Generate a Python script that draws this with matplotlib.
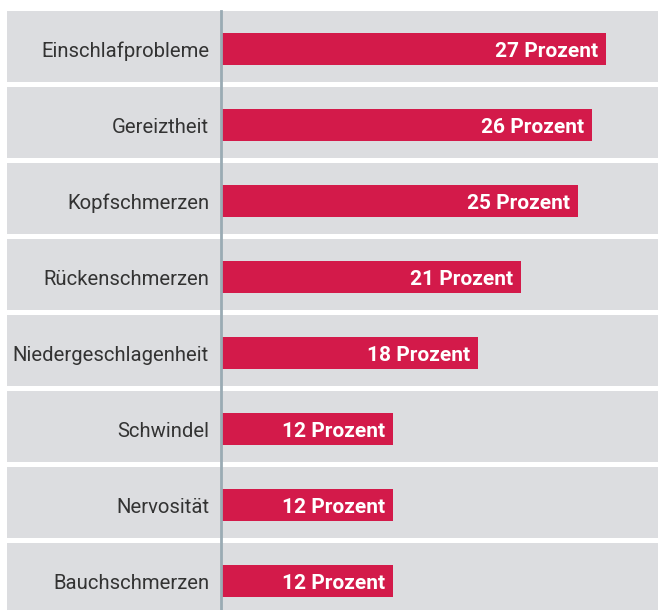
import matplotlib
matplotlib.use("Agg")
import matplotlib.pyplot as plt

# data
symptoms = ["Einschlafprobleme", "Gereiztheit", "Kopfschmerzen", "Rückenschmerzen",
            "Niedergeschlagenheit", "Schwindel", "Nervosität", "Bauchschmerzen"]
percent = [27, 26, 25, 21, 18, 12, 12, 12]

BAR_COLOR = "#d31a4a"
BAND_COLOR = "#dcdde0"
AXIS_COLOR = "#9aabb4"
TEXT_COLOR = "#333333"

plt.rcParams['font.family'] = ['Roboto', 'DejaVu Sans']

fig = plt.figure(figsize=(6.58, 6.10), dpi=100)
ax = fig.add_axes([0, 0, 1, 1])
ax.set_xlim(-15.61, 30.66)
ax.set_ylim(7.382, -0.645)
ax.axis('off')

pos = list(range(len(symptoms)))

# grey background band per row
ax.barh([p - 0.033 for p in pos], [60] * len(pos), left=-15.12, height=0.934,
        color=BAND_COLOR, linewidth=0, zorder=0)

# the bars
ax.barh(pos, percent, height=0.42, color=BAR_COLOR, linewidth=0, zorder=2)

# baseline
ax.axvline(-0.1, ymin=0, ymax=(7.382 - (-0.5)) / (7.382 + 0.645),
           color=AXIS_COLOR, linewidth=2, zorder=3)

for p, name, v in zip(pos, symptoms, percent):
    ax.text(-0.91, p + 0.10, name, ha='right', va='baseline', fontsize=14.6,
            color=TEXT_COLOR)
    ax.text(v - 0.56, p + 0.10, f"{v} Prozent", ha='right', va='baseline', fontsize=15,
            color='white', fontweight='bold', zorder=4)

fig.savefig("out.png", dpi=100)
